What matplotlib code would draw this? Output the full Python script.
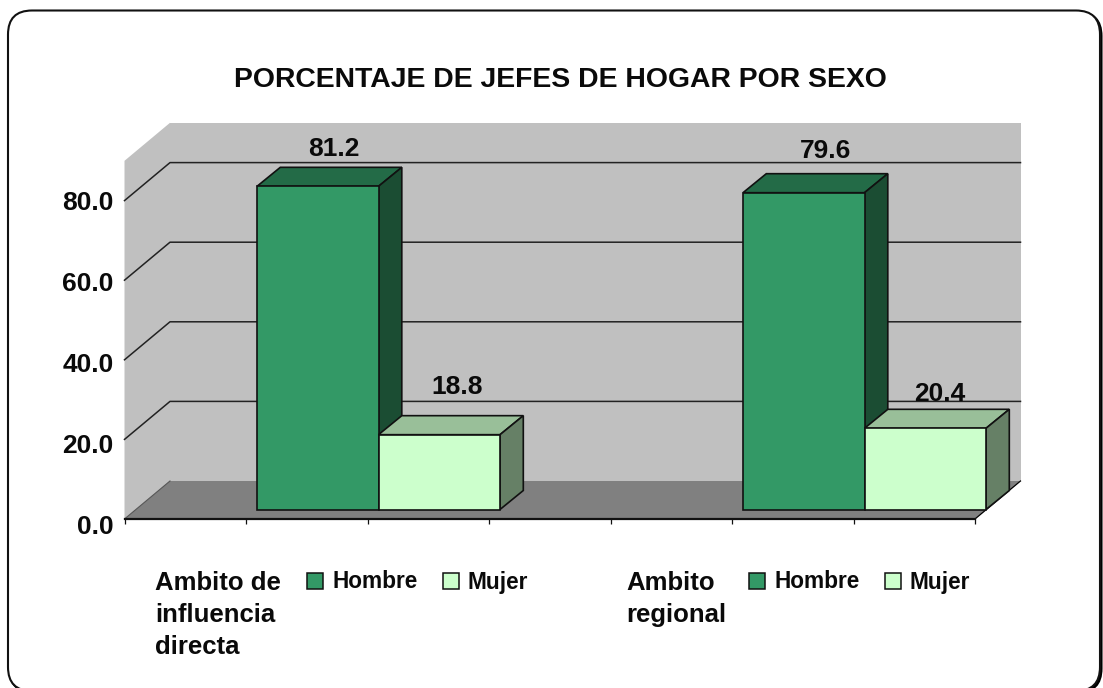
import matplotlib
matplotlib.use('Agg')
import matplotlib.pyplot as plt
from matplotlib.patches import FancyBboxPatch, Patch
from matplotlib.transforms import Affine2D

plt.rcParams['font.family'] = ['Liberation Sans', 'DejaVu Sans']
plt.rcParams['font.weight'] = 'bold'

# Data
categories = ['Ambito de\ninfluencia\ndirecta', 'Ambito\nregional']
hombre = [81.2, 79.6]
mujer = [18.8, 20.4]
y_ticks = [0, 20, 40, 60, 80]
series_names = ['Hombre', 'Mujer']

FIG_W, FIG_H = 1103, 688

# Colours of each series: front, top, side
green = ('#339966', '#236B47', '#1B4D33')
pale = ('#CCFFCC', '#99BF99', '#668066')

fig = plt.figure(figsize=(FIG_W / 100, FIG_H / 100), dpi=100)

# Rounded frame, drawn in pixel coordinates behind the chart
bg = fig.add_axes([0, 0, 1, 1])
bg.set_xlim(0, FIG_W)
bg.set_ylim(FIG_H, 0)
bg.axis('off')
R = 24
shadow = FancyBboxPatch((8 + R + 1.5, 10.5 + R + 1.5), 1092 - 2 * R, 680.5 - 2 * R,
                        boxstyle=f'round,pad={R},rounding_size={R}',
                        fc='black', ec='black', lw=1.5)
bg.add_patch(shadow)
frame = FancyBboxPatch((8 + R, 10.5 + R), 1092 - 2 * R, 680.5 - 2 * R,
                       boxstyle=f'round,pad={R},rounding_size={R}',
                       fc='white', ec='#111111', lw=1.5)
bg.add_patch(frame)

# Main axes: x is 7 slots wide, y runs 0-90
ax = fig.add_axes([124.5 / FIG_W, (FIG_H - 519) / FIG_H, 850.5 / FIG_W, 358.2 / FIG_H])
ax.set_xlim(0, 7)
ax.set_ylim(0, 90)
ax.patch.set_visible(False)

# 3D look expressed in data units
px_x = 7 / 850.5
px_y = 90 / 358.2
wall_dx, wall_dy = 45.5 * px_x, 38 * px_y
bar_dx, bar_dy = 11 * px_x, 9.5 * px_y
depth_x, depth_y = 23.3 * px_x, 19 * px_y

# Walls and floor
ax.fill([0, wall_dx, wall_dx, 0], [0, wall_dy, 90 + wall_dy, 90], color='#C0C0C0', clip_on=False, zorder=1, lw=0)
ax.fill([wall_dx, 7 + wall_dx, 7 + wall_dx, wall_dx], [wall_dy, wall_dy, 90 + wall_dy, 90 + wall_dy],
        color='#C0C0C0', clip_on=False, zorder=1, lw=0)
ax.fill([0, 7, 7 + wall_dx, wall_dx], [0, 0, wall_dy, wall_dy], color='#808080', clip_on=False, zorder=2, lw=0)

# Grid lines run along the side wall and then the back wall
for v in y_ticks[1:]:
    ax.plot([0, wall_dx, 7 + wall_dx], [v, v + wall_dy, v + wall_dy], color='#222222', lw=1.1,
            clip_on=False, zorder=2)
ax.plot([0, wall_dx], [0, wall_dy], color='#555555', lw=0.8, clip_on=False, zorder=3)
ax.plot([7, 7 + wall_dx], [0, wall_dy], color='black', lw=0.9, clip_on=False, zorder=3)


def draw_bar(x, value, colours, z):
    front, top, side = colours
    left = x + bar_dx
    right = left + 1
    low = bar_dy
    high = bar_dy + value
    ax.bar(left, value, width=1, bottom=low, align='edge', color=front, edgecolor='#111111',
           lw=1.2, clip_on=False, zorder=z + 1)
    ax.fill([left, right, right + depth_x, left + depth_x],
            [high, high, high + depth_y, high + depth_y],
            fc=top, ec='#111111', lw=1.2, clip_on=False, zorder=z)
    ax.fill([right, right + depth_x, right + depth_x, right],
            [low, low + depth_y, high + depth_y, high],
            fc=side, ec='#111111', lw=1.2, clip_on=False, zorder=z)


# Each category takes slots either side of its centre
centers = [2, 6]
label_gap = [(18, 29), (23, 15)]
label_shift = [(16, 17.5), (21.5, 14.5)]
for i, c in enumerate(centers):
    draw_bar(c - 1, hombre[i], green, 5)
    draw_bar(c, mujer[i], pale, 7)
    for j, (x, v) in enumerate([(c - 0.5, hombre[i]), (c + 0.5, mujer[i])]):
        ax.text(x + bar_dx + label_shift[i][j] * px_x, v + bar_dy + depth_y + label_gap[i][j] * px_y,
                f'{v:.1f}', ha='center', va='center', fontsize=19, fontweight='bold',
                color='#0a0a0a', zorder=10)

# Axis styling
for side in ['top', 'right', 'left']:
    ax.spines[side].set_visible(False)
ax.spines['bottom'].set_linewidth(1.6)
ax.spines['bottom'].set_color('#111111')
ax.spines['bottom'].set_zorder(4)
ax.set_xticks(range(8))
ax.set_xticklabels([])
ax.tick_params(axis='x', length=3.8, width=0.9, color='#111111')
ax.set_yticks(y_ticks)
ax.set_yticklabels([f'{v:.1f}' for v in y_ticks], fontsize=19, fontweight='bold', color='#0a0a0a')
ax.tick_params(axis='y', length=0, pad=8)
# The lower labels sit a little under their grid level
for lbl, drop in zip(ax.get_yticklabels(), [6, 4, 3, 1, 0]):
    lbl.set_transform(lbl.get_transform() + Affine2D().translate(0, -drop))

bg.text(560, 80, 'PORCENTAJE DE JEFES DE HOGAR POR SEXO', ha='center', va='center',
        fontsize=20.4, fontweight='bold', color='#0a0a0a')

# Category names with their own legend beside them
cat_x = [155, 626]
leg_x = [307, 749]
handles = [Patch(fc=green[0], ec='#111111', lw=1.1), Patch(fc=pale[0], ec='#111111', lw=1.1)]
for i in range(2):
    bg.text(cat_x[i], 571, categories[i], ha='left', va='top', fontsize=18.5, fontweight='bold',
            color='#0a0a0a', linespacing=1.42)
    leg = bg.legend(handles, series_names, ncol=2, frameon=False, fontsize=16.3,
                    loc='center left', bbox_to_anchor=(leg_x[i], 582),
                    bbox_transform=bg.transData, handlelength=0.72, handleheight=0.72,
                    handletextpad=0.4, columnspacing=1.1, borderpad=0, borderaxespad=0)
    for t in leg.get_texts():
        t.set_color('#0a0a0a')
    if i == 0:
        bg.add_artist(leg)

fig.savefig('out.png', dpi=100)
